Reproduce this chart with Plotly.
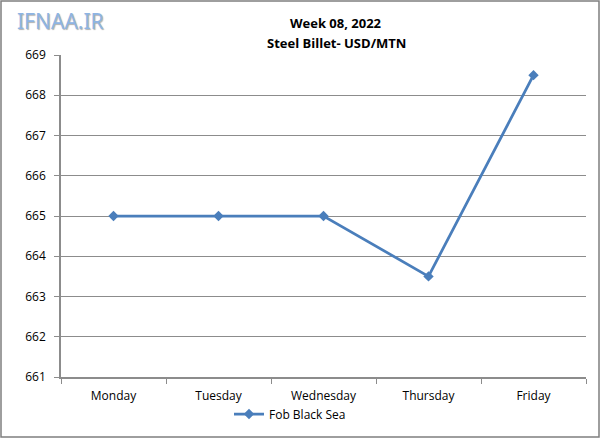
import plotly.graph_objects as go

days = ["Monday", "Tuesday", "Wednesday", "Thursday", "Friday"]
fob_black_sea = [665, 665, 665, 663.5, 668.5]
y_ticks = [661, 662, 663, 664, 665, 666, 667, 668, 669]

L, R, T, B = 61, 14, 55, 61
W, H = 600, 438
pw, ph = W - L - R, H - T - B

def px(x):
    return (x - L) / pw

def py(y):
    return (H - B - y) / ph

line_color = "#4A7EBB"
grid_color = "#8C8C8C"
font_fam = "Open Sans, Noto Sans, sans-serif"

fig = go.Figure()
fig.add_trace(go.Scatter(
    x=days, y=fob_black_sea, mode="lines+markers", name="Fob Black Sea",
    line=dict(color=line_color, width=2.75),
    marker=dict(symbol="diamond", size=8, color=line_color),
))

fig.update_layout(
    width=W, height=H,
    margin=dict(l=L, r=R, t=T, b=B, autoexpand=False),
    paper_bgcolor="white", plot_bgcolor="white",
    font=dict(family=font_fam, size=12, color="#000000"),
    showlegend=True,
    legend=dict(orientation="h", x=px(290), y=py(414), xanchor="center", yanchor="middle",
                font=dict(size=12), bgcolor="rgba(0,0,0,0)", itemwidth=30),
    xaxis=dict(type="category", range=[-0.5, 4.5], tickson="boundaries",
               ticks="outside", ticklen=5, tickcolor=grid_color,
               showline=True, linecolor=grid_color, linewidth=1.5,
               showgrid=False, zeroline=False, fixedrange=True,
               ticklabelstandoff=7),
    yaxis=dict(range=[661, 669], tickvals=y_ticks, ticks="outside", ticklen=5,
               tickcolor=grid_color, showline=True, linecolor=grid_color, linewidth=1.5,
               showgrid=True, gridcolor=grid_color, gridwidth=1, zeroline=False,
               ticklabelstandoff=6),
    shapes=[dict(type="rect", xref="paper", yref="paper",
                 x0=px(1), x1=px(599), y0=py(437), y1=py(1),
                 line=dict(color="#7F7F7F", width=1.5), fillcolor="rgba(0,0,0,0)", layer="below")],
    annotations=[
        dict(text="<b>Week 08, 2022</b>", xref="paper", yref="paper", x=px(336), y=py(23),
             xanchor="center", yanchor="middle", showarrow=False, font=dict(size=13)),
        dict(text="<b>Steel Billet- USD/MTN</b>", xref="paper", yref="paper", x=px(336), y=py(43),
             xanchor="center", yanchor="middle", showarrow=False, font=dict(size=13)),
        dict(text="IFNAA.IR", xref="paper", yref="paper", x=px(15), y=py(21),
             xanchor="left", yanchor="middle", showarrow=False,
             font=dict(size=21, color="#8EB4E3", family="Noto Sans, sans-serif",
                       shadow="1px 1px 1px #B0B0B0")),
    ],
)

fig.write_html("out.html")
